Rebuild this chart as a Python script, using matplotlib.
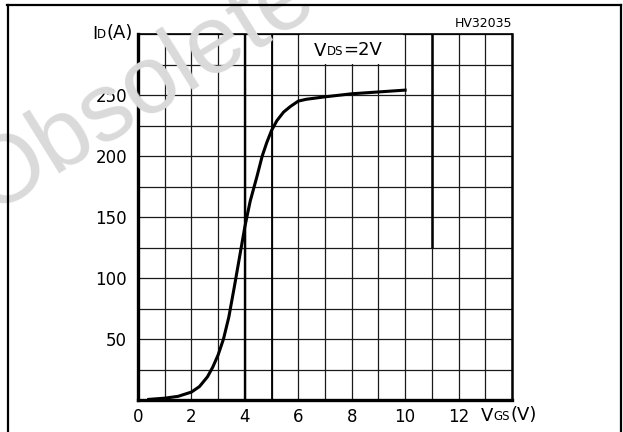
import matplotlib.pyplot as plt
from matplotlib.lines import Line2D
from matplotlib.patches import Rectangle

# transfer characteristic
vgs = [0.4, 1.0, 1.5, 2.0, 2.3, 2.6, 2.8, 3.0, 3.2, 3.4, 3.6, 3.8, 4.0, 4.2, 4.45, 4.65,
       4.82, 5.0, 5.2, 5.45, 5.7, 6.0, 6.3, 7.0, 7.6, 8.0, 9.0, 10.0]
id_a = [0.5, 1.5, 3, 6.5, 11, 19, 27, 37, 50, 68, 92, 117, 142, 163, 183, 200,
        211, 221, 229, 236, 240.5, 245, 246.5, 248.5, 250, 251, 252.5, 254]

x_labels = [0, 2, 4, 6, 8, 10, 12]
y_labels = [50, 100, 150, 200, 250]

fig = plt.figure(figsize=(6.23, 4.32), dpi=100)
plt.rcParams['font.family'] = ['DejaVu Sans']

# watermark behind everything
fig.text(-10 / 623, 1 - 214 / 432, 'Obsolete', fontsize=70, color='#dadada',
         family='Liberation Sans', rotation=32, rotation_mode='anchor',
         ha='left', va='baseline', zorder=0)

# outer frame
for xs, ys in [([7 / 623, 621 / 623], [1 - 5 / 432, 1 - 5 / 432]),
               ([7.5 / 623, 7.5 / 623], [0, 1 - 5 / 432]),
               ([621 / 623, 621 / 623], [0, 1 - 5 / 432])]:
    fig.add_artist(Line2D(xs, ys, color='black', lw=1.6))

ax = fig.add_axes([138 / 623, 32 / 432, 374 / 623, 366 / 432])
ax.set_facecolor('none')
ax.set_xlim(0, 14)
ax.set_ylim(0, 300)

ax.set_xticks(range(0, 15), minor=True)
ax.set_yticks(range(0, 301, 25), minor=True)
ax.set_xticks(x_labels)
ax.set_yticks(y_labels)
ax.tick_params(which='both', length=0)
ax.tick_params(axis='x', pad=6, labelsize=12)
ax.tick_params(axis='y', pad=8, labelsize=12)
ax.grid(which='both', color='#1a1a1a', lw=0.9)
ax.set_axisbelow(True)

# heavier grid lines as in the scan
ax.axvline(4, color='black', lw=1.7, zorder=1)
ax.axvline(5, color='black', lw=1.3, zorder=1)
ax.vlines(11, 125, 300, color='black', lw=1.8, zorder=1)

ax.spines['left'].set_linewidth(2.4)
ax.spines['bottom'].set_linewidth(2.4)
ax.spines['right'].set_linewidth(1.8)
ax.spines['top'].set_linewidth(1.2)

ax.plot(vgs, id_a, color='black', lw=2.2, solid_joinstyle='round', zorder=3)

# condition label box hides the grid behind it
ax.add_patch(Rectangle((6.08, 275.5), 3.84, 24.5, facecolor='white', edgecolor='none', zorder=1.5))
t = ax.text(6.6, 286, 'V', fontsize=13, va='center', ha='left', zorder=4)
t2 = ax.annotate('DS', xy=(1, 0.12), xycoords=t, fontsize=8.5, va='bottom', ha='left', zorder=4)
ax.annotate('=2V', xy=(1, -0.12), xycoords=t2, fontsize=13, va='bottom', ha='left', zorder=4)

# axis titles
t = ax.text(-1.72, 300, 'I', fontsize=13, va='center', ha='left', clip_on=False)
t2 = ax.annotate('D', xy=(1, 0.12), xycoords=t, fontsize=8.5, va='bottom', ha='left')
ax.annotate('(A)', xy=(1, -0.12), xycoords=t2, fontsize=13, va='bottom', ha='left')

t = ax.text(12.85, -17, 'V', fontsize=13, va='baseline', ha='left', clip_on=False)
t2 = ax.annotate('GS', xy=(1, 0.12), xycoords=t, fontsize=8.5, va='bottom', ha='left')
ax.annotate('(V)', xy=(1, -0.12), xycoords=t2, fontsize=13, va='bottom', ha='left')

ax.text(1.0, 1.01, 'HV32035', transform=ax.transAxes, fontsize=9, ha='right', va='bottom')

fig.savefig('out.png', dpi=100)
